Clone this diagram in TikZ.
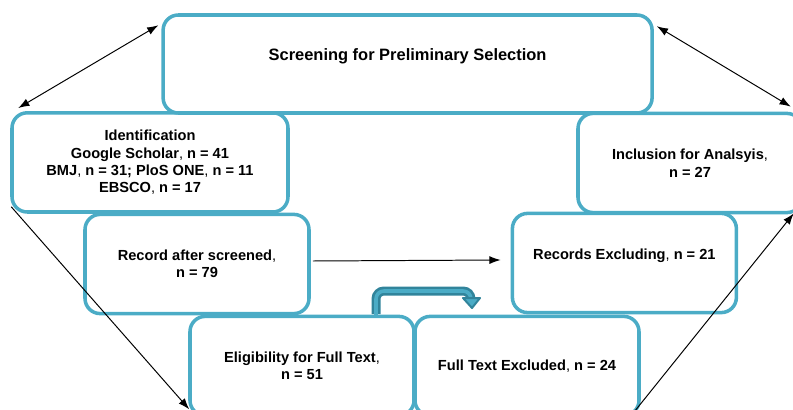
\documentclass[tikz,border=0pt]{standalone}
\usepackage{fontspec}
\setmainfont{Liberation Sans}
\usepackage{tikz}
\usetikzlibrary{arrows.meta}
\definecolor{boxblue}{RGB}{75,172,198}
\definecolor{bendblue}{RGB}{49,132,155}
\newcommand{\lightcomma}{{\mdseries,}}

\begin{document}
\begin{tikzpicture}[
    box/.style={draw=boxblue, line width=2.5pt, rounded corners=0.38cm,
        minimum width=5.6cm, minimum height=2.48cm, align=center,
        font=\fontsize{10.4}{12.4}\selectfont\bfseries},
    arr/.style={line width=0.7pt, -{Latex[length=0.28cm, width=0.2cm]}},
    twoarr/.style={line width=0.7pt, {Latex[length=0.28cm, width=0.2cm]}-{Latex[length=0.28cm, width=0.2cm]}}
]
    \useasboundingbox (0, 0) rectangle (19.825, -10.25);
    \clip (0, 0) rectangle (19.825, -10.25);

    \node[box, minimum width=12.225cm, minimum height=2.45cm, font=\fontsize{11.7}{14}\selectfont\bfseries] (screen) at (10.19, -1.6) {Screening for Preliminary Selection\\ ~};
    \node[box, minimum width=6.9cm] (ident) at (3.75, -4.06) {Identification\\ Google Scholar\lightcomma{} n = 41\\ BMJ\lightcomma{} n = 31; PloS ONE\lightcomma{} n = 11\\ EBSCO\lightcomma{} n = 17};
    \node[box] (record) at (4.925, -6.6) {Record after screened\lightcomma\\ n = 79};
    \node[box] (recexcl) at (15.61, -6.575) {Records Excluding\lightcomma{} n = 21\\ ~};
    \node[box] (incl) at (17.25, -4.075) {Inclusion for Analsyis\lightcomma\\ n = 27};
    \node[box] (elig) at (7.55, -9.15) {Eligibility for Full Text\lightcomma\\ n = 51};
    \node[box] (fulltext) at (13.175, -9.15) {Full Text Excluded\lightcomma{} n = 24};

    \draw [twoarr] ([shift={(0.2, 0.075)}]ident.north west) -- ([shift={(-0.075, -0.3)}]screen.north west);
    \draw [twoarr] ([shift={(0.075, -0.325)}]screen.north east) -- ([shift={(-0.325, 0.125)}]incl.north east);
    \draw [arr] ([shift={(0.025, 0.175)}]ident.south west) -- ([shift={(0.025, 0.2)}]elig.south west);
    \draw [arr] ([shift={(0.05, 0.075)}]record.east) -- ([shift={(-0.25, 0.075)}]recexcl.west);
    \draw [arr] ([shift={(-0.275, 0)}]fulltext.south east) -- ([shift={(-0.25, 0.025)}]incl.south east);

    % bent arrow from eligibility to full text
    \coordinate (bendfrom) at (9.4, -7.85);
    \coordinate (bendto) at (11.775, -7.475);
    \draw [bendblue, line width=0.225cm, rounded corners=0.2cm] (bendfrom) -- ++(0, 0.575) -| (bendto);
    \draw [boxblue, line width=0.09cm, rounded corners=0.2cm] ([yshift=-0.08cm]bendfrom) -- ++(0, 0.655) -| (bendto);
    \filldraw [fill=boxblue, draw=bendblue, line width=0.05cm, line join=round] ([shift={(-0.2, 0.025)}]bendto) -- ([shift={(0.225, 0.025)}]bendto) -- ([shift={(0.025, -0.225)}]bendto) -- cycle;
\end{tikzpicture}
\end{document}
